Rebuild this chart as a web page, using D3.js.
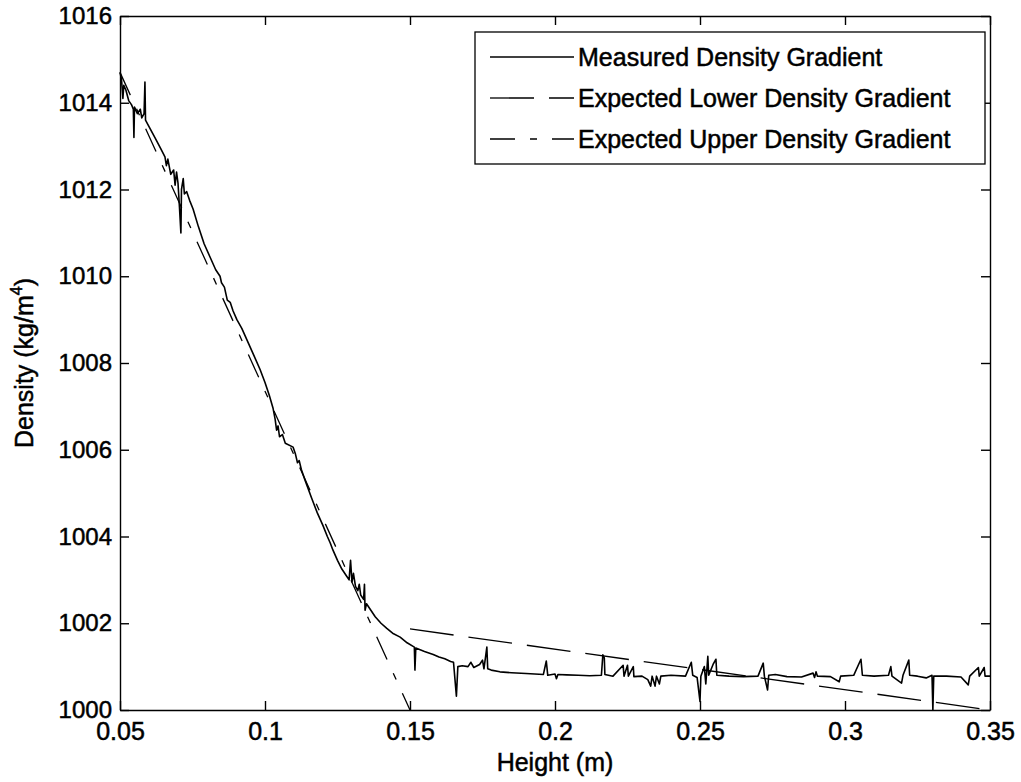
<!DOCTYPE html>
<html>
<head>
<meta charset="utf-8">
<script src="https://cdn.jsdelivr.net/npm/d3@7"></script>
<style>
    body { margin: 0; background: #fff; }
    #chart { width: 1021px; height: 782px; }
    text { font-family: "Liberation Sans", Arial, Helvetica, sans-serif; fill: #000; stroke: #000; stroke-width: 0.5px; }
</style>
</head>
<body>
<div id="chart"></div>
<script>
// measured density profile, [height (m), density (kg/m^4)]
const measuredPoints = [
    [0.0500, 1014.70], [0.0505, 1014.55], [0.0510, 1014.10], [0.0513, 1014.40], [0.0520, 1014.30],
    [0.0530, 1014.05], [0.0540, 1013.95], [0.0546, 1013.85], [0.0548, 1013.20], [0.0550, 1013.90],
    [0.0560, 1013.75], [0.0570, 1013.85], [0.0575, 1013.65], [0.0583, 1013.75], [0.0586, 1014.48],
    [0.0588, 1013.60], [0.0600, 1013.45], [0.0620, 1013.20], [0.0640, 1012.95], [0.0655, 1012.75],
    [0.0660, 1012.55], [0.0665, 1012.70], [0.0675, 1012.35], [0.0685, 1012.45], [0.0690, 1012.10],
    [0.0695, 1012.40], [0.0700, 1012.15], [0.0705, 1011.60], [0.0710, 1011.00], [0.0712, 1012.00],
    [0.0718, 1012.25], [0.0722, 1011.90], [0.0730, 1011.95], [0.0740, 1011.75], [0.0752, 1011.55],
    [0.0770, 1011.15], [0.0790, 1010.75], [0.0810, 1010.45], [0.0830, 1010.15], [0.0845, 1010.00],
    [0.0850, 1009.85], [0.0860, 1009.75], [0.0870, 1009.45], [0.0880, 1009.40], [0.0890, 1009.20],
    [0.0903, 1009.00], [0.0920, 1008.80], [0.0940, 1008.50], [0.0960, 1008.20], [0.0983, 1007.85],
    [0.1000, 1007.55], [0.1015, 1007.25], [0.1028, 1006.95], [0.1035, 1006.70], [0.1040, 1006.45],
    [0.1045, 1006.55], [0.1050, 1006.30], [0.1060, 1006.35], [0.1070, 1006.15], [0.1097, 1006.06],
    [0.1105, 1005.90], [0.1112, 1005.70], [0.1118, 1005.75], [0.1125, 1005.55], [0.1138, 1005.30],
    [0.1160, 1004.90], [0.1180, 1004.55], [0.1200, 1004.25], [0.1215, 1004.00], [0.1225, 1003.85],
    [0.1234, 1003.69], [0.1250, 1003.45], [0.1265, 1003.25], [0.1280, 1003.10], [0.1290, 1003.00],
    [0.1295, 1003.45], [0.1300, 1002.95], [0.1305, 1003.15], [0.1312, 1002.85], [0.1320, 1002.75],
    [0.1325, 1002.90], [0.1330, 1002.65], [0.1340, 1002.55], [0.1343, 1002.90], [0.1345, 1002.30],
    [0.1350, 1002.45], [0.1365, 1002.30], [0.1380, 1002.15], [0.1400, 1002.00], [0.1420, 1001.88],
    [0.1440, 1001.77], [0.1466, 1001.68], [0.1490, 1001.55], [0.1515, 1001.45], [0.1517, 1000.92],
    [0.1520, 1001.43], [0.1550, 1001.35], [0.1580, 1001.28], [0.1600, 1001.22], [0.1620, 1001.18],
    [0.1640, 1001.12], [0.1650, 1001.10], [0.1660, 1000.32], [0.1665, 1001.00], [0.1680, 1001.02],
    [0.1700, 1001.00], [0.1710, 1001.10], [0.1720, 1000.98], [0.1740, 1001.05], [0.1750, 1001.15],
    [0.1755, 1000.95], [0.1765, 1001.45], [0.1768, 1000.95], [0.1780, 1000.92], [0.1810, 1000.88],
    [0.1850, 1000.86], [0.1900, 1000.84], [0.1960, 1000.82], [0.1970, 1001.13], [0.1975, 1000.80],
    [0.2000, 1000.83], [0.2005, 1000.72], [0.2010, 1000.82], [0.2040, 1000.81], [0.2080, 1000.80],
    [0.2120, 1000.79], [0.2160, 1000.80], [0.2165, 1001.27], [0.2170, 1001.20], [0.2172, 1000.82],
    [0.2200, 1000.78], [0.2235, 1001.03], [0.2238, 1000.78], [0.2250, 1001.03], [0.2253, 1000.78],
    [0.2270, 1001.00], [0.2272, 1000.77], [0.2300, 1000.78], [0.2320, 1000.70], [0.2330, 1000.55],
    [0.2335, 1000.78], [0.2345, 1000.55], [0.2350, 1000.78], [0.2360, 1000.60], [0.2365, 1000.78],
    [0.2400, 1000.80], [0.2450, 1000.78], [0.2470, 1001.10], [0.2475, 1000.80], [0.2490, 1000.75],
    [0.2500, 1000.20], [0.2503, 1000.78], [0.2515, 1001.00], [0.2520, 1000.60], [0.2527, 1001.24],
    [0.2530, 1000.80], [0.2545, 1001.05], [0.2555, 1001.17], [0.2558, 1000.80], [0.2600, 1000.78],
    [0.2650, 1000.77], [0.2700, 1000.78], [0.2718, 1001.08], [0.2722, 1000.78], [0.2733, 1000.46],
    [0.2737, 1000.80], [0.2760, 1000.82], [0.2800, 1000.77], [0.2850, 1000.76], [0.2890, 1000.85],
    [0.2895, 1000.75], [0.2900, 1000.88], [0.2905, 1000.78], [0.2950, 1000.77], [0.2980, 1000.65],
    [0.2985, 1000.78], [0.3030, 1000.80], [0.3055, 1001.17], [0.3060, 1000.80], [0.3100, 1000.78],
    [0.3150, 1000.80], [0.3158, 1001.00], [0.3162, 1000.78], [0.3195, 1000.62], [0.3200, 1000.80],
    [0.3220, 1001.15], [0.3223, 1000.80], [0.3250, 1000.78], [0.3280, 1000.74], [0.3300, 1000.80],
    [0.3303, 1000.00], [0.3306, 1000.78], [0.3350, 1000.78], [0.3400, 1000.76], [0.3425, 1000.58],
    [0.3430, 1000.78], [0.3460, 1000.98], [0.3463, 1000.78], [0.3480, 1000.98], [0.3483, 1000.78],
    [0.3500, 1000.78]
];

// expected gradients (straight lines)
const lowerGradient = [[0.15, 1001.87], [0.35, 1000.0]];
const upperGradient = [[0.05, 1014.70], [0.15, 1000.0]];

const xTicks = [0.05, 0.1, 0.15, 0.2, 0.25, 0.3, 0.35];
const yTicks = [1000, 1002, 1004, 1006, 1008, 1010, 1012, 1014, 1016];

const legendLabels = [
    "Measured Density Gradient",
    "Expected Lower Density Gradient",
    "Expected Upper Density Gradient"
];

class DensityVis {
    constructor(parentElement) {
        this.parentElement = parentElement;
        this.dashes = ["none", "44,15", "25,15,7,15"]; // measured, lower, upper
        this.initVis();
    }

    initVis() {
        let vis = this;

        vis.margin = {top: 16, right: 31, bottom: 72, left: 120};
        vis.width = 1021 - vis.margin.left - vis.margin.right;
        vis.height = 782 - vis.margin.top - vis.margin.bottom;

        vis.svg = d3.select("#" + vis.parentElement).append("svg")
            .attr("width", 1021)
            .attr("height", 782);

        vis.g = vis.svg.append("g")
            .attr("transform", `translate(${vis.margin.left}, ${vis.margin.top})`);

        vis.x = d3.scaleLinear().domain([0.05, 0.35]).range([0, vis.width]);
        vis.y = d3.scaleLinear().domain([1000, 1016]).range([vis.height, 0]);

        vis.drawAxes();
        vis.drawLines();
        vis.drawLegend();
    }

    drawAxes() {
        let vis = this;

        let fmt = d => String(+d.toFixed(2));

        let bottom = vis.g.append("g")
            .attr("transform", `translate(0, ${vis.height})`)
            .call(d3.axisBottom(vis.x).tickValues(xTicks).tickFormat(fmt)
                .tickSizeInner(-9).tickSizeOuter(0).tickPadding(12));

        let left = vis.g.append("g")
            .call(d3.axisLeft(vis.y).tickValues(yTicks).tickFormat(d3.format("d"))
                .tickSizeInner(-9).tickSizeOuter(0).tickPadding(8));

        let top = vis.g.append("g")
            .call(d3.axisTop(vis.x).tickValues(xTicks).tickFormat("")
                .tickSizeInner(-9).tickSizeOuter(0));

        let right = vis.g.append("g")
            .attr("transform", `translate(${vis.width}, 0)`)
            .call(d3.axisRight(vis.y).tickValues(yTicks).tickFormat("")
                .tickSizeInner(-9).tickSizeOuter(0));

        [bottom, left, top, right].forEach(a => {
            a.selectAll("path, line").attr("stroke", "#000").attr("stroke-width", 1.4);
            a.selectAll("text").attr("font-size", 24).attr("fill", "#000");
        });
        bottom.selectAll("text").attr("font-size", 25);

        vis.g.append("text")
            .attr("x", vis.width / 2)
            .attr("y", vis.height + 61)
            .attr("text-anchor", "middle")
            .attr("font-size", 25)
            .text("Height (m)");

        let ylab = vis.svg.append("text")
            .attr("transform", `translate(33, 363) rotate(-90)`)
            .attr("text-anchor", "middle")
            .attr("font-size", 25);
        ylab.append("tspan").text("Density (kg/m");
        ylab.append("tspan").attr("font-size", 16).attr("dy", -11).text("4");
        ylab.append("tspan").attr("dy", 11).text(")");
    }

    drawLines() {
        let vis = this;

        let line = d3.line()
            .x(d => vis.x(d[0]))
            .y(d => vis.y(d[1]));

        let series = [measuredPoints, lowerGradient, upperGradient];

        vis.g.append("g")
            .selectAll("path")
            .data(series)
            .join("path")
            .attr("d", line)
            .attr("fill", "none")
            .attr("stroke", "#000")
            .attr("stroke-width", (d, i) => i === 0 ? 1.6 : 1.3)
            .attr("stroke-linejoin", "round")
            .attr("stroke-dasharray", (d, i) => vis.dashes[i]);
    }

    drawLegend() {
        let vis = this;

        let legend = vis.svg.append("g")
            .attr("transform", "translate(475, 32)");

        legend.append("rect")
            .attr("width", 510)
            .attr("height", 132)
            .attr("fill", "#fff")
            .attr("stroke", "#000")
            .attr("stroke-width", 1.3);

        legendLabels.forEach((label, i) => {
            let yPos = 25 + i * 41;

            legend.append("line")
                .attr("x1", 15)
                .attr("x2", 99)
                .attr("y1", yPos)
                .attr("y2", yPos)
                .attr("stroke", "#000")
                .attr("stroke-width", i === 0 ? 1.5 : 1.3)
                .attr("stroke-dasharray", vis.dashes[i]);

            legend.append("text")
                .attr("x", 103)
                .attr("y", yPos + 9)
                .attr("font-size", 25)
                .text(label);
        });
    }
}

new DensityVis("chart");
</script>
</body>
</html>
